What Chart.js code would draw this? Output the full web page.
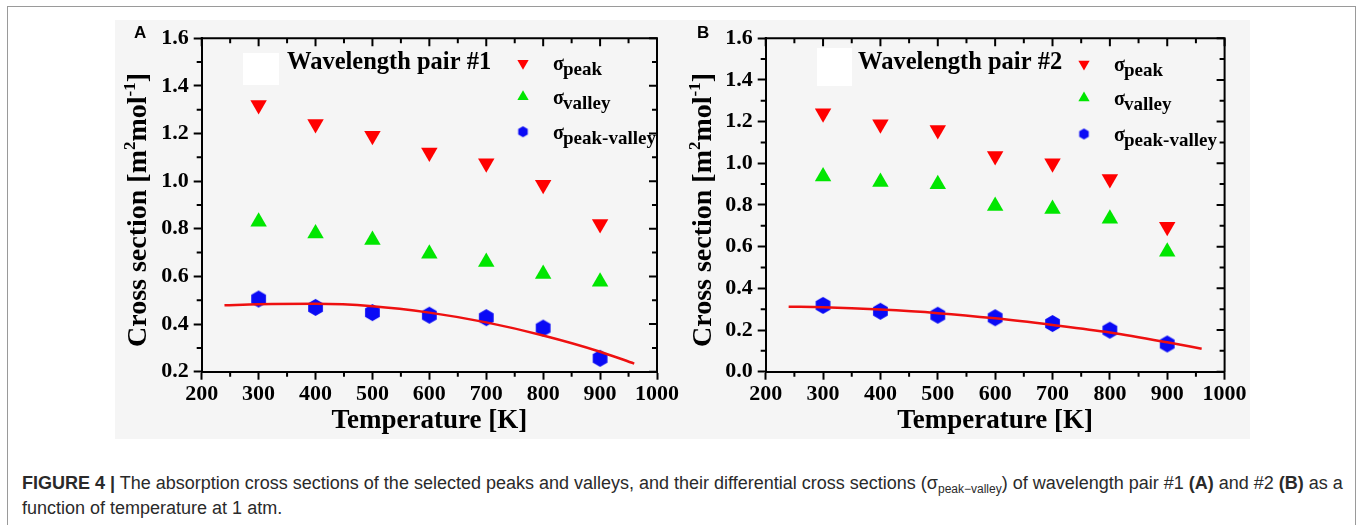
<!DOCTYPE html>
<html>
<head>
<meta charset="utf-8">
<script src="https://cdn.jsdelivr.net/npm/chart.js@4.4.1/dist/chart.umd.min.js"></script>
<style>
  html, body { margin: 0; padding: 0; background: #fff; }
  body { position: relative; width: 1357px; height: 525px; overflow: hidden; }
  #frame { position: absolute; left: 7px; top: 6px; width: 1347px; height: 560px; border: 1px solid #9a9a9a; }
  #plate { position: absolute; left: 115px; top: 20px; width: 1135px; height: 419px; background: #f5f5f5; }
  .panel { position: absolute; top: 20px; height: 420px; }
  #panelA { left: 115px; width: 565px; }
  #panelB { left: 680px; width: 570px; }
  #caption { position: absolute; left: 22px; top: 471px; width: 1334px; white-space: nowrap; font-family: "Liberation Sans", Arial, sans-serif; font-size: 18px; line-height: 25px; color: #2a2a2a; }
  #caption sub { font-size: 12px; vertical-align: -4px; line-height: 0; }
</style>
</head>
<body>
<div id="frame"></div>
<div id="plate"></div>
<div class="panel" id="panelA"><canvas id="chartA"></canvas></div>
<div class="panel" id="panelB"><canvas id="chartB"></canvas></div>
<div id="caption"><b>FIGURE 4 |</b> The absorption cross sections of the selected peaks and valleys, and their differential cross sections (σ<sub>peak−valley</sub>) of wavelength pair #1 <b>(A)</b> and #2 <b>(B)</b> as a<br>function of temperature at 1 atm.</div>

<script>
// temperatures of the measurements [K]
const temps = [300, 400, 500, 600, 700, 800, 900];
const xTicks = [200, 300, 400, 500, 600, 700, 800, 900, 1000];
const seriesNames = ['peak', 'valley', 'peak-valley'];

// wavelength pair #1
const peakA = [1.32, 1.24, 1.19, 1.12, 1.075, 0.985, 0.82];
const valleyA = [0.83, 0.78, 0.753, 0.695, 0.66, 0.61, 0.578];
const diffA = [0.505, 0.47, 0.448, 0.437, 0.427, 0.383, 0.256];
const yTicksA = [0.2, 0.4, 0.6, 0.8, 1.0, 1.2, 1.4, 1.6];

// wavelength pair #2
const peakB = [1.24, 1.187, 1.16, 1.035, 1.0, 0.925, 0.695];
const valleyB = [0.936, 0.91, 0.899, 0.795, 0.78, 0.734, 0.576];
const diffB = [0.318, 0.29, 0.271, 0.259, 0.231, 0.199, 0.133];
const yTicksB = [0.0, 0.2, 0.4, 0.6, 0.8, 1.0, 1.2, 1.4, 1.6];

// fitted curves through the differential cross sections
const fitT = [240, 300, 400, 500, 600, 700, 800, 900, 960];
const fitA = [0.479, 0.483, 0.485, 0.475, 0.448, 0.407, 0.352, 0.284, 0.234];
const fitB = [0.312, 0.309, 0.298, 0.281, 0.256, 0.224, 0.188, 0.141, 0.11];

const RED = '#ff0000', GREEN = '#00e600', BLUE = '#0a0af5';
const serif = '"Liberation Serif", "Times New Roman", serif';

// hexagon marker (pointy top) as a small canvas, used as pointStyle
function hexagon(r, color) {
    const c = document.createElement('canvas');
    const s = Math.ceil(r * 2) + 2;
    c.width = s; c.height = s;
    const g = c.getContext('2d');
    g.fillStyle = color;
    g.beginPath();
    for (let i = 0; i < 6; i++) {
        const a = Math.PI / 3 * i;
        const px = s / 2 + r * Math.sin(a), py = s / 2 - r * Math.cos(a);
        if (i) g.lineTo(px, py); else g.moveTo(px, py);
    }
    g.closePath();
    g.fill();
    return c;
}

function triangle(ctx, x, y, r, down) {
    const d = down ? -1 : 1;
    ctx.beginPath();
    ctx.moveTo(x, y - d * r);
    ctx.lineTo(x + r * 0.866, y + d * r / 2);
    ctx.lineTo(x - r * 0.866, y + d * r / 2);
    ctx.closePath();
    ctx.fill();
}

const pts = (xs, ys) => xs.map((x, i) => ({ x: x, y: ys[i] }));

// box on top/right, minor ticks outside, mirrored ticks inside
const frameTicks = {
    id: 'frameTicks',
    afterDraw(chart, args, o) {
        const { ctx, chartArea: a, scales: { x, y } } = chart;
        ctx.save();
        ctx.strokeStyle = '#000';
        ctx.lineWidth = 2;
        ctx.beginPath();
        ctx.moveTo(a.left - 1, a.top);
        ctx.lineTo(a.right, a.top);
        ctx.lineTo(a.right, a.bottom + 1);
        ctx.stroke();

        ctx.beginPath();
        const xMinor = xTicks.slice(1).map((v, i) => (v + xTicks[i]) / 2);
        const yMinor = o.yTicks.slice(1).map((v, i) => (v + o.yTicks[i]) / 2);
        xTicks.forEach(v => {
            const px = x.getPixelForValue(v);
            ctx.moveTo(px, a.top); ctx.lineTo(px, a.top + 8);
        });
        xMinor.forEach(v => {
            const px = x.getPixelForValue(v);
            ctx.moveTo(px, a.bottom); ctx.lineTo(px, a.bottom + 5);
            ctx.moveTo(px, a.top); ctx.lineTo(px, a.top + 5);
        });
        o.yTicks.forEach(v => {
            const py = y.getPixelForValue(v);
            ctx.moveTo(a.right, py); ctx.lineTo(a.right - 8, py);
        });
        yMinor.forEach(v => {
            const py = y.getPixelForValue(v);
            ctx.moveTo(a.left, py); ctx.lineTo(a.left - 5, py);
            ctx.moveTo(a.right, py); ctx.lineTo(a.right - 5, py);
        });
        ctx.stroke();

        // y axis title with superscripts
        ctx.translate(o.titleX, o.titleY);
        ctx.rotate(-Math.PI / 2);
        ctx.fillStyle = '#000';
        ctx.textBaseline = 'alphabetic';
        let cx = 0;
        const parts = [['Cross section [m', 0], ['2', 1], ['mol', 0], ['-1', 1], [']', 0]];
        parts.forEach(([t, sup]) => {
            ctx.font = sup ? 'bold 17px ' + serif : 'bold 28px ' + serif;
            ctx.fillText(t, cx, sup ? -11 : 0);
            cx += ctx.measureText(t).width;
        });
        ctx.restore();
    }
};

// panel letter, heading and the σ legend
const sigmaLegend = {
    id: 'sigmaLegend',
    afterDraw(chart, args, o) {
        const ctx = chart.ctx;
        ctx.save();
        ctx.fillStyle = '#000';
        ctx.textBaseline = 'middle';
        ctx.font = 'bold 17px "Liberation Sans", Arial, sans-serif';
        ctx.fillText(o.letter, o.letterX, 13);

        ctx.fillStyle = '#fff';
        ctx.fillRect(o.patch[0], o.patch[1], o.patch[2], o.patch[3]);

        ctx.fillStyle = '#000';
        ctx.font = 'bold 24.5px ' + serif;
        ctx.fillText(o.heading, o.headingX, 43);

        const hex = hexagon(5.5, BLUE);
        seriesNames.forEach((name, i) => {
            const y = o.rowY[i];
            if (i === 0) { ctx.fillStyle = RED; triangle(ctx, o.markX, y, 6.5, true); }
            if (i === 1) { ctx.fillStyle = GREEN; triangle(ctx, o.markX, y, 6.5, false); }
            if (i === 2) ctx.drawImage(hex, o.markX - hex.width / 2, y - hex.height / 2);
            ctx.fillStyle = '#000';
            ctx.textBaseline = 'alphabetic';
            ctx.font = 'bold 20px ' + serif;
            ctx.fillText('σ', o.markX + 30, y + 7);
            ctx.font = 'bold 19px ' + serif;
            ctx.fillText(name, o.markX + 40, y + 12);
        });
        ctx.restore();
    }
};

function buildPanel(id, p) {
    const ctx = document.getElementById(id).getContext('2d');
    return new Chart(ctx, {
        type: 'scatter',
        data: {
            datasets: [{
                label: 'fit',
                data: pts(fitT, p.fit),
                showLine: true,
                borderColor: 'rgb(238, 16, 16)',
                borderWidth: 2.5,
                pointRadius: 0,
                cubicInterpolationMode: 'monotone',
                order: 0
            }, {
                label: 'σpeak',
                data: pts(temps, p.peak),
                pointStyle: 'triangle',
                rotation: 180,
                pointRadius: 9.5,
                backgroundColor: RED,
                borderWidth: 0,
                order: 1
            }, {
                label: 'σvalley',
                data: pts(temps, p.valley),
                pointStyle: 'triangle',
                pointRadius: 9.5,
                backgroundColor: GREEN,
                borderWidth: 0,
                order: 1
            }, {
                label: 'σpeak-valley',
                data: pts(temps, p.diff),
                pointStyle: hexagon(8.5, BLUE),
                pointRadius: 9,
                order: 1
            }]
        },
        options: {
            responsive: true,
            maintainAspectRatio: false,
            animation: false,
            events: [],
            layout: { padding: { left: 0, top: 12.7, right: p.padRight, bottom: 0 } },
            plugins: {
                legend: { display: false },
                tooltip: { enabled: false },
                frameTicks: { yTicks: p.yTicks, titleX: 31, titleY: 327 },
                sigmaLegend: p.legend
            },
            scales: {
                x: {
                    type: 'linear',
                    min: 200,
                    max: 1000,
                    afterBuildTicks: s => { s.ticks = xTicks.map(v => ({ value: v })); },
                    afterFit: s => { s.height = 68.3; },
                    grid: { drawOnChartArea: false, drawTicks: true, tickLength: 8, tickWidth: 2, tickColor: '#000' },
                    border: { color: '#000', width: 2 },
                    ticks: {
                        color: '#000',
                        padding: 1,
                        maxRotation: 0,
                        autoSkip: false,
                        callback: v => String(v),
                        font: { family: serif, weight: 'bold', size: 22 }
                    },
                    title: {
                        display: true,
                        text: 'Temperature [K]',
                        color: '#000',
                        padding: { top: 0, bottom: 3 },
                        font: { family: serif, weight: 'bold', size: 27 }
                    }
                },
                y: {
                    type: 'linear',
                    min: p.yTicks[0],
                    max: p.yTicks[p.yTicks.length - 1],
                    afterBuildTicks: s => { s.ticks = p.yTicks.map(v => ({ value: v })); },
                    afterFit: s => { s.width = p.yWidth; },
                    grid: { drawOnChartArea: false, drawTicks: true, tickLength: 8, tickWidth: 2, tickColor: '#000' },
                    border: { color: '#000', width: 2 },
                    ticks: {
                        color: '#000',
                        padding: 5,
                        callback: v => v.toFixed(1),
                        font: { family: serif, weight: 'bold', size: 22 }
                    }
                }
            }
        },
        plugins: [frameTicks, sigmaLegend]
    });
}

buildPanel('chartA', {
    peak: peakA, valley: valleyA, diff: diffA, fit: fitA, yTicks: yTicksA,
    yWidth: 86.7, padRight: 22,
    legend: {
        letter: 'A', letterX: 19, heading: 'Wavelength pair #1', headingX: 172,
        patch: [128, 33, 36, 32], markX: 408, rowY: [43.3, 76.7, 111.7]
    }
});

buildPanel('chartB', {
    peak: peakB, valley: valleyB, diff: diffB, fit: fitB, yTicks: yTicksB,
    yWidth: 85.7, padRight: 25.4,
    legend: {
        letter: 'B', letterX: 17, heading: 'Wavelength pair #2', headingX: 178,
        patch: [137, 28, 35, 38], markX: 404, rowY: [44, 78, 114]
    }
});
</script>
</body>
</html>
